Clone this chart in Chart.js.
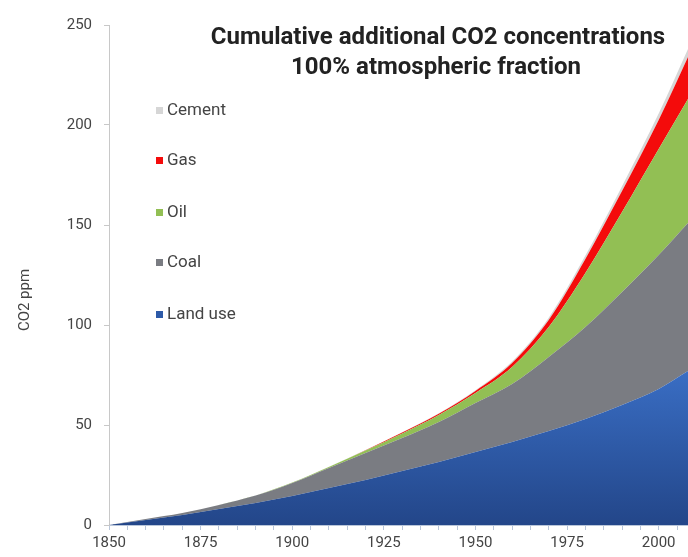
<!DOCTYPE html>
<html>
<head>
<meta charset="utf-8">
<script src="https://cdn.jsdelivr.net/npm/chart.js@4.4.1/dist/chart.umd.min.js"></script>
<style>
  html, body { margin: 0; padding: 0; background: #fff; }
  #wrap { width: 688px; height: 557px; }
</style>
</head>
<body>
<div id="wrap"><canvas id="myChart" width="688" height="557"></canvas></div>
<script>
// years and the ppm added by each source (stacked, not cumulative across sources)
const years    = [1850, 1860, 1870, 1880, 1890, 1900, 1910, 1920, 1930, 1940, 1950, 1960, 1970, 1980, 1990, 2000, 2008];
const landUse  = [0, 2.5, 5, 8, 11, 14.5, 18.5, 22.5, 27, 31.5, 36.5, 41.5, 47, 53, 60, 68, 77];
const coal     = [0, 0.5, 1, 2, 3.7, 6.5, 10, 13.5, 16.5, 20, 24.5, 29, 37, 46, 56.5, 67, 74];
const oil      = [0, 0, 0, 0, 0.1, 0.2, 0.5, 1.2, 2.3, 3.5, 5, 8.5, 15, 27, 40, 53, 62];
const gas      = [0, 0, 0, 0, 0, 0, 0.05, 0.2, 0.4, 0.6, 1, 2, 3.5, 7, 10.5, 14.5, 21];
const cement   = [0, 0, 0, 0, 0, 0, 0.05, 0.1, 0.2, 0.3, 0.4, 0.7, 1.1, 1.7, 2.4, 3.2, 4];

const yTicks = [0, 50, 100, 150, 200, 250];
const xLabels = [1850, 1875, 1900, 1925, 1950, 1975, 2000];

const titleLines = ["Cumulative additional CO2 concentrations", "100% atmospheric fraction"];
const yTitle = "CO2 ppm";

const pts = (arr) => arr.map((v, i) => ({ x: years[i], y: v }));

// blue gets a soft vertical gradient like the original
const blueFill = (ctx) => {
  const chart = ctx.chart;
  const area = chart.chartArea;
  if (!area) return "#2b56a0";
  const y = chart.scales.y;
  const g = chart.ctx.createLinearGradient(0, y.getPixelForValue(80), 0, y.getPixelForValue(0));
  g.addColorStop(0, "#3a6fc6");
  g.addColorStop(1, "#234689");
  return g;
};

const series = [
  { label: "Land use", data: landUse, color: blueFill, swatch: "#2d5aa8" },
  { label: "Coal", data: coal, color: "#7a7c82", swatch: "#7a7c82" },
  { label: "Oil", data: oil, color: "#92bf54", swatch: "#92bf54" },
  { label: "Gas", data: gas, color: "#f40b0b", swatch: "#f40b0b" },
  { label: "Cement", data: cement, color: "#d6d6d6", swatch: "#d6d6d6" },
];

// titles, legend and axis title drawn by hand so they sit inside the plot like the source
const overlay = {
  id: "overlay",
  afterDraw(chart) {
    const c = chart.ctx;
    c.save();
    c.fillStyle = "#222";
    c.font = "bold 24px Roboto";
    c.textAlign = "center";
    c.textBaseline = "middle";
    c.fillText(titleLines[0], 438, 38);
    c.fillText(titleLines[1], 436, 68);

    // legend, top item is the last dataset
    const legendY = [111, 161, 213, 263, 315];
    c.font = "17px Roboto";
    c.textAlign = "left";
    for (let i = 0; i < series.length; i++) {
      const s = series[series.length - 1 - i];
      const yy = legendY[i];
      c.fillStyle = s.swatch;
      c.fillRect(156, yy - 4, 7, 7);
      c.fillStyle = "#444";
      c.fillText(s.label, 167, yy);
    }

    // y axis title
    c.translate(25, 300);
    c.rotate(-Math.PI / 2);
    c.textAlign = "center";
    c.font = "15px Roboto";
    c.fillStyle = "#444";
    c.fillText(yTitle, 0, 0);
    c.restore();
  },
};

const myChart = new Chart(document.querySelector("#myChart"), {
  type: "line",
  data: {
    datasets: series.map((s, i) => ({
      label: s.label,
      data: pts(s.data),
      backgroundColor: s.color,
      borderWidth: 0,
      pointRadius: 0,
      fill: i === 0 ? "origin" : "-1",
      cubicInterpolationMode: "monotone",
    })),
  },
  options: {
    responsive: false,
    animation: false,
    layout: { padding: { top: 25, right: 0, left: 0, bottom: 0 } },
    plugins: {
      legend: { display: false },
      tooltip: { enabled: false },
    },
    scales: {
      x: {
        type: "linear",
        min: 1850,
        max: 2008,
        afterFit: (s) => { s.height = 32; },
        afterBuildTicks: (s) => {
          const t = [];
          for (let v = 1850; v <= 2005; v += 5) t.push({ value: v });
          s.ticks = t;
        },
        ticks: {
          autoSkip: false,
          maxRotation: 0,
          padding: 4,
          color: "#444",
          font: { family: "Roboto", size: 15 },
          callback: (v) => (xLabels.includes(v) ? String(v) : ""),
        },
        grid: { drawOnChartArea: false, tickLength: 5, color: "#b9c6da" },
        border: { color: "#b9c6da" },
      },
      y: {
        stacked: true,
        min: 0,
        max: 250,
        afterFit: (s) => { s.width = 109; },
        afterBuildTicks: (s) => { s.ticks = yTicks.map((v) => ({ value: v })); },
        ticks: {
          padding: 12,
          color: "#444",
          font: { family: "Roboto", size: 15 },
        },
        grid: { drawOnChartArea: false, tickLength: 5, color: "#c8c8c8" },
        border: { color: "#c8c8c8" },
      },
    },
  },
  plugins: [overlay],
});
</script>
</body>
</html>
